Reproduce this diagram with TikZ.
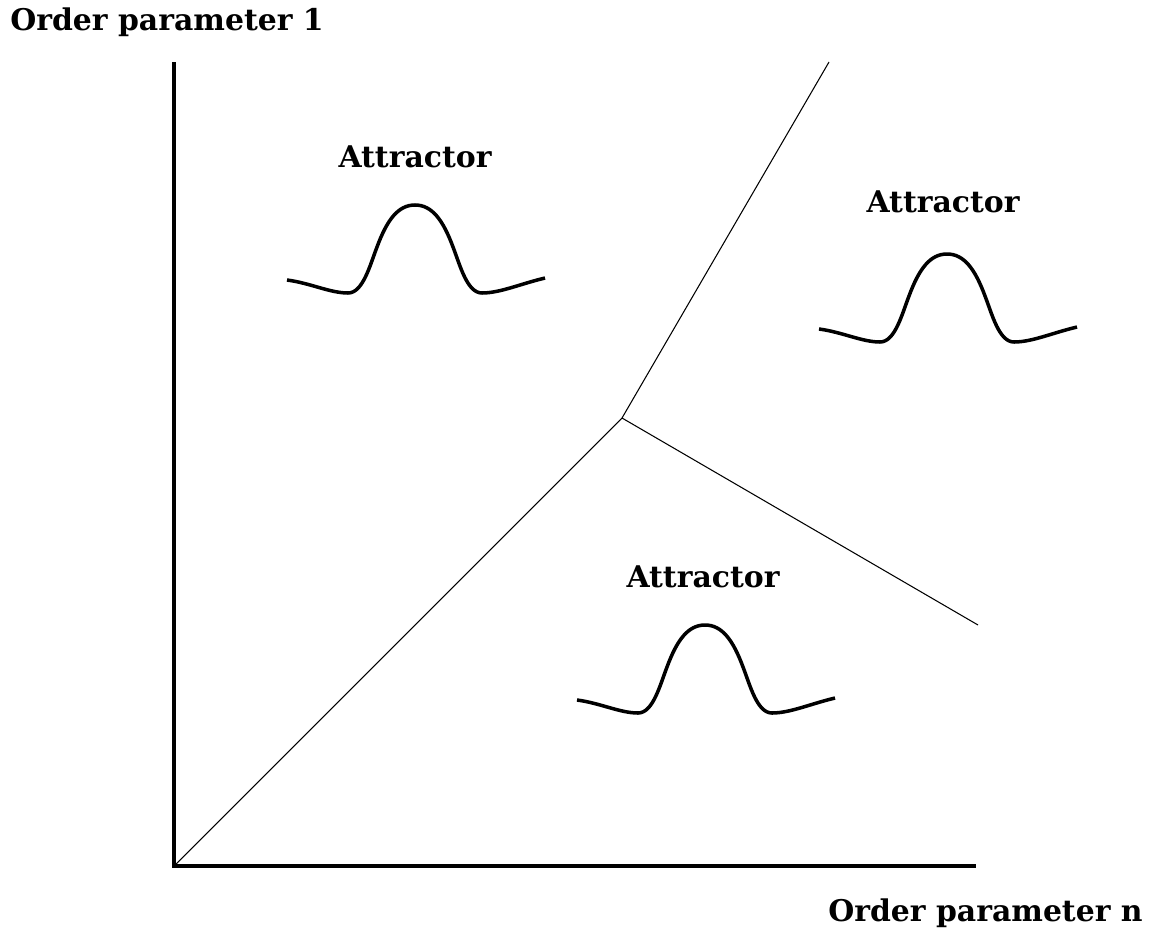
\documentclass[tikz,border=0pt]{standalone}
\usepackage{fontspec}
\setmainfont{DejaVu Serif}
\begin{document}
\begin{tikzpicture}[x=0.02cm,y=-0.02cm,
  axis/.style={line width=2.3pt},
  border/.style={line width=0.6pt},
  lbl/.style={font=\bfseries\fontsize{17}{20}\selectfont, inner sep=0pt},
  wave/.pic={\draw[line width=2pt, line join=round]
     (-128,75) .. controls (-105,78) and (-85,88) .. (-67,88)
     .. controls (-52,88) and (-45,60) .. (-38,42)
     .. controls (-28,15) and (-17,0) .. (0,0)
     .. controls (17,0) and (28,15) .. (38,42)
     .. controls (45,60) and (52,88) .. (67,88)
     .. controls (85,88) and (105,79) .. (130,73);}]
\useasboundingbox (0,0) rectangle (1151,933);
\coordinate (O) at (174,866);
\coordinate (Ytop) at (174,62);
\coordinate (Xend) at (976,866);
\coordinate (J) at (622,418);
\coordinate (A) at (829,62);
\coordinate (B) at (978,625);
\draw[axis] (Ytop) -- (O) -- (Xend);
\draw[border] (O) -- (J) -- (A);
\draw[border] (J) -- (B);
\node[lbl, anchor=west] (ylab) at (10,22) {Order parameter 1};
\node[lbl, anchor=east] (xlab) at (1143,913) {Order parameter n};
\node[lbl] (t1) at (415,157) {Attractor};
\node[lbl] (t2) at (943,202) {Attractor};
\node[lbl] (t3) at (703,577) {Attractor};
\pic at (415,205) {wave};
\pic at (947,254) {wave};
\pic at (705,625) {wave};
\end{tikzpicture}
\end{document}
